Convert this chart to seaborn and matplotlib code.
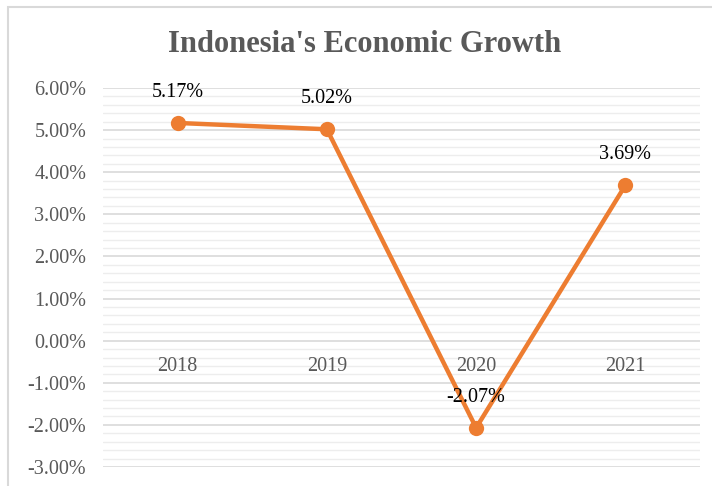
import matplotlib
matplotlib.use("Agg")
import matplotlib.pyplot as plt
import seaborn as sns
import pandas as pd
from matplotlib.ticker import MultipleLocator, FuncFormatter
from matplotlib.patches import Rectangle

years = ["2018", "2019", "2020", "2021"]
growth = [5.17, 5.02, -2.07, 3.69]
labels = ["5.17%", "5.02%", "-2.07%", "3.69%"]

sns.set_theme(style="white")
plt.rcParams['font.family'] = ['Liberation Serif', 'DejaVu Serif']

df = pd.DataFrame({"idx": range(len(years)), "growth": growth})

fig = plt.figure(figsize=(7.12, 4.86), dpi=100)
ax = fig.add_axes([103/712, 1-467/486, (700-103)/712, (467-88)/486])

ax.set_ylim(-3, 6)
ax.set_xlim(-0.5, 3.5)
ax.yaxis.set_major_locator(MultipleLocator(1))
ax.yaxis.set_minor_locator(MultipleLocator(0.2))
ax.grid(True, which="major", axis="y", color="#D9D9D9", linewidth=1.2)
ax.grid(True, which="minor", axis="y", color="#EDEDED", linewidth=1.0)
ax.set_axisbelow(True)

sns.lineplot(data=df, x="idx", y="growth", ax=ax, color="#ED7D31",
             linewidth=3.2, marker="o", markersize=11, markeredgewidth=0, zorder=3)

for i, (v, t) in enumerate(zip(growth, labels)):
    ax.annotate(t, (i, v), xytext=(0, 22), textcoords="offset points",
                ha="center", va="center", fontsize=14.5, color="black", zorder=4)

ax.yaxis.set_major_formatter(FuncFormatter(lambda v, p: f"{v:.2f}%"))
ax.set_xticks(range(len(years)))
ax.set_xticklabels(years)
ax.spines['bottom'].set_position(('data', 0))
ax.xaxis.set_zorder(2.5)
for s in ax.spines.values():
    s.set_visible(False)
ax.tick_params(axis="x", length=0, pad=12, labelsize=14.5, labelcolor="#595959")
ax.tick_params(axis="y", which="both", length=0, pad=12, labelsize=14.5, labelcolor="#595959")
ax.set_xlabel("")
ax.set_ylabel("")

fig.text(365/712, 1-45/486, "Indonesia's Economic Growth", ha="center", va="center",
         fontsize=22, fontweight="bold", color="#595959")

fig.patches.append(Rectangle((8/712, -0.05), 1.0, 1-7/486+0.05, transform=fig.transFigure,
                             fill=False, edgecolor="#D9D9D9", linewidth=1.5))

fig.savefig("out.png", dpi=100, facecolor="white")
